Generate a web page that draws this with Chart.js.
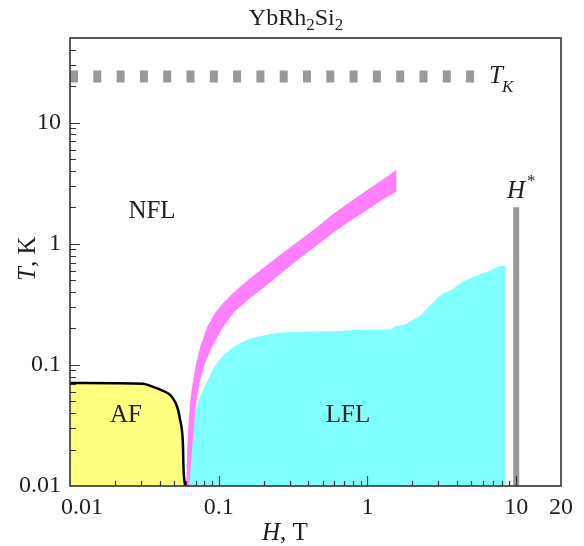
<!DOCTYPE html>
<html lang="en">
<head>
<meta charset="UTF-8">
<title>YbRh2Si2 phase diagram</title>
<script src="https://cdn.jsdelivr.net/npm/chart.js"></script>
<style>
  html, body { margin: 0; padding: 0; background: #fff; }
</style>
</head>
<body>
<canvas id="chart" width="584" height="546"></canvas>
<script>
// AF phase boundary (black line, yellow underneath)
const afH = [0.01, 0.02, 0.031, 0.0362, 0.0423, 0.0471, 0.0509, 0.0533, 0.0550, 0.0568, 0.0576, 0.0578, 0.0594];
const afT = [0.071, 0.0705, 0.0697, 0.0658, 0.0610, 0.0565, 0.0494, 0.0425, 0.0351, 0.0274, 0.0199, 0.0155, 0.01];

// LFL region, upper edge (cyan underneath)
const lflH = [0.0620, 0.0643, 0.0695, 0.0787, 0.0977, 0.119, 0.156, 0.2, 0.259, 0.4, 0.6, 1.0, 1.45, 1.5, 1.67, 1.85, 2.1, 2.27, 2.47, 2.73, 2.95, 3.2, 3.6, 4.23, 4.66, 5.77, 6.7, 7.6, 8.5];
const lflT = [0.01, 0.021, 0.040, 0.062, 0.104, 0.133, 0.161, 0.175, 0.184, 0.188, 0.19, 0.195, 0.197, 0.205, 0.211, 0.221, 0.243, 0.255, 0.285, 0.324, 0.356, 0.386, 0.411, 0.473, 0.504, 0.562, 0.602, 0.649, 0.657];

// crossover band (pink), upper-left edge
const bandUpH = [0.0604, 0.0609, 0.0614, 0.0623, 0.0633, 0.0648, 0.0673, 0.0706, 0.0750, 0.0837, 0.0947, 0.1072, 0.1252, 0.158, 0.212, 0.276, 0.354, 0.461, 0.590, 0.768, 1.0, 1.262, 1.568];
const bandUpT = [0.01, 0.01436, 0.0210, 0.0290, 0.0401, 0.0555, 0.0751, 0.104, 0.141, 0.206, 0.269, 0.325, 0.394, 0.504, 0.670, 0.859, 1.08, 1.382, 1.77, 2.22, 2.79, 3.38, 4.09];
// crossover band (pink), lower-right edge
const bandLoH = [0.0604, 0.0633, 0.0648, 0.0663, 0.0679, 0.0695, 0.0716, 0.0750, 0.0811, 0.0904, 0.1039, 0.1252, 0.1605, 0.212, 0.276, 0.354, 0.461, 0.590, 0.768, 1.0, 1.262, 1.568];
const bandLoT = [0.01, 0.01, 0.01436, 0.0210, 0.0290, 0.0401, 0.0555, 0.0751, 0.104, 0.141, 0.1945, 0.269, 0.351, 0.458, 0.598, 0.766, 0.981, 1.233, 1.549, 1.91, 2.31, 2.69];

// Kondo temperature and H* line
const tkH = [0.01, 5.3];
const tkT = [24, 24];
const hStarH = [10, 10];
const hStarT = [0.01, 2];

// axes
const xMin = 0.01, xMax = 20, yMin = 0.01, yMax = 50;
const decades = [0.01, 0.1, 1, 10];
const xLabelVals = [0.01, 0.1, 1, 10, 20];
const xLabelText = ['    0.01', '0.1', '1', '10', '20'];
const yLabelVals = [0.01, 0.1, 1, 10];
const yLabelText = ['0.01', '0.1', '1', '10'];

const pts = (xs, ys) => xs.map((v, i) => ({x: v, y: ys[i]}));
const near = (a, b) => Math.abs(a - b) / b < 1e-6;

function minorTicks(lo, hi) {
    const out = [];
    decades.forEach(d => {
        for (let k = 1; k <= 9; k++) {
            const v = +(d * k).toPrecision(6);
            if (v >= lo && v < hi) out.push(v);
        }
    });
    return out;
}
const xTicks = minorTicks(xMin, xMax);
const yTicks = minorTicks(yMin, yMax);
const isDecade = v => decades.some(d => near(v, d));

const serif = '"Liberation Serif", "Times New Roman", serif';
const ink = '#1e1e1e';

// frame, inward ticks and the text annotations
const decorPlugin = {
    id: 'decor',
    afterDatasetsDraw(chart) {
        const {ctx, chartArea: a, scales: {x, y}} = chart;
        ctx.save();
        ctx.strokeStyle = '#333';
        ctx.lineWidth = 1.2;
        ctx.beginPath();
        xTicks.forEach(v => {
            if (near(v, xMin)) return;
            const px = Math.round(x.getPixelForValue(v)) + 0.5;
            const len = isDecade(v) ? 10 : 5;
            ctx.moveTo(px, a.bottom);
            ctx.lineTo(px, a.bottom - len);
        });
        yTicks.forEach(v => {
            if (near(v, yMin)) return;
            const py = Math.round(y.getPixelForValue(v)) + 0.5;
            const len = isDecade(v) ? 10 : 6;
            ctx.moveTo(a.left, py);
            ctx.lineTo(a.left + len, py);
        });
        ctx.stroke();
        ctx.lineWidth = 1.6;
        ctx.strokeRect(a.left, a.top, a.right - a.left, a.bottom - a.top);
        ctx.restore();
    },
    afterDraw(chart) {
        const ctx = chart.ctx;
        ctx.save();
        ctx.fillStyle = ink;
        ctx.textBaseline = 'alphabetic';
        ctx.textAlign = 'left';

        // title YbRh2Si2
        const parts = [['YbRh', 24, 0], ['2', 17, 5], ['Si', 24, 0], ['2', 17, 5]];
        let w = 0;
        parts.forEach(p => { ctx.font = p[1] + 'px ' + serif; w += ctx.measureText(p[0]).width; });
        let cx = 296 - w / 2;
        parts.forEach(p => {
            ctx.font = p[1] + 'px ' + serif;
            ctx.fillText(p[0], cx, 25 + p[2]);
            cx += ctx.measureText(p[0]).width;
        });

        // region labels
        ctx.font = '25px ' + serif;
        ctx.textAlign = 'center';
        ctx.fillText('NFL', 152, 218);
        ctx.fillText('AF', 126, 422);
        ctx.fillText('LFL', 348, 422);

        // T_K
        ctx.textAlign = 'left';
        ctx.font = 'italic 25px ' + serif;
        ctx.fillText('T', 489, 83);
        ctx.font = 'italic 17px ' + serif;
        ctx.fillText('K', 502, 92);

        // H*
        ctx.font = 'italic 25px ' + serif;
        ctx.fillText('H', 507, 198);
        ctx.font = '17px ' + serif;
        ctx.fillText('*', 527, 186);

        // x axis title: H, T
        ctx.font = 'italic 25px ' + serif;
        let hx = 262;
        ctx.fillText('H', hx, 540);
        hx += ctx.measureText('H').width;
        ctx.font = '25px ' + serif;
        ctx.fillText(', T', hx, 540);

        // y axis title: T, K
        ctx.translate(35, 281);
        ctx.rotate(-Math.PI / 2);
        ctx.font = 'italic 25px ' + serif;
        ctx.fillText('T', 0, 0);
        const tw = ctx.measureText('T').width;
        ctx.font = '25px ' + serif;
        ctx.fillText(', K', tw, 0);
        ctx.restore();
    }
};

const noLine = 'rgba(0,0,0,0)';

new Chart(document.getElementById('chart'), {
    type: 'scatter',
    data: {
        datasets: [
            {   // 0: AF
                data: pts(afH, afT), showLine: true, pointRadius: 0, cubicInterpolationMode: 'monotone',
                borderColor: '#000', borderWidth: 2.5, backgroundColor: '#ffff80', fill: 'start'
            },
            {   // 1: H*
                data: pts(hStarH, hStarT), showLine: true, pointRadius: 0,
                borderColor: '#999999', borderWidth: 6, borderCapStyle: 'butt', fill: false
            },
            {   // 2: T_K
                data: pts(tkH, tkT), showLine: true, pointRadius: 0,
                borderColor: '#999999', borderWidth: 12, borderDash: [8, 15.3], borderCapStyle: 'butt', fill: false
            },
            {   // 3: band lower edge, filled up to the upper edge
                data: pts(bandLoH, bandLoT), showLine: true, pointRadius: 0,
                borderColor: noLine, borderWidth: 1, backgroundColor: '#ff80ff', fill: 4
            },
            {   // 4: band upper edge
                data: pts(bandUpH, bandUpT), showLine: true, pointRadius: 0,
                borderColor: noLine, borderWidth: 1, fill: false
            },
            {   // 5: LFL
                data: pts(lflH, lflT), showLine: true, pointRadius: 0, cubicInterpolationMode: 'monotone',
                borderColor: noLine, borderWidth: 1, backgroundColor: '#80ffff', fill: 'start'
            }
        ]
    },
    options: {
        responsive: false,
        animation: false,
        layout: { padding: { top: 38, right: 23, bottom: 0, left: 0 } },
        plugins: {
            legend: { display: false },
            tooltip: { enabled: false },
            title: { display: false }
        },
        scales: {
            x: {
                type: 'logarithmic', position: 'bottom', min: xMin, max: xMax,
                grid: { display: false, drawTicks: false },
                border: { display: false },
                afterBuildTicks: s => { s.ticks = xLabelVals.map(v => ({value: v})); },
                afterFit: s => { s.height = 60; },
                ticks: {
                    autoSkip: false, maxRotation: 0, minRotation: 0, padding: 7, color: ink,
                    font: { family: serif, size: 24, lineHeight: 1.2 },
                    callback: v => {
                        const i = xLabelVals.findIndex(t => near(v, t));
                        return i < 0 ? '' : xLabelText[i];
                    }
                }
            },
            y: {
                type: 'logarithmic', position: 'left', min: yMin, max: yMax,
                grid: { display: false, drawTicks: false },
                border: { display: false },
                afterBuildTicks: s => { s.ticks = yLabelVals.map(v => ({value: v})); },
                afterFit: s => { s.width = 70; },
                ticks: {
                    autoSkip: false, padding: 9, color: ink,
                    font: { family: serif, size: 24, lineHeight: 1.2 },
                    callback: v => {
                        const i = yLabelVals.findIndex(t => near(v, t));
                        return i < 0 ? '' : yLabelText[i];
                    }
                }
            }
        }
    },
    plugins: [decorPlugin]
});
</script>
</body>
</html>
